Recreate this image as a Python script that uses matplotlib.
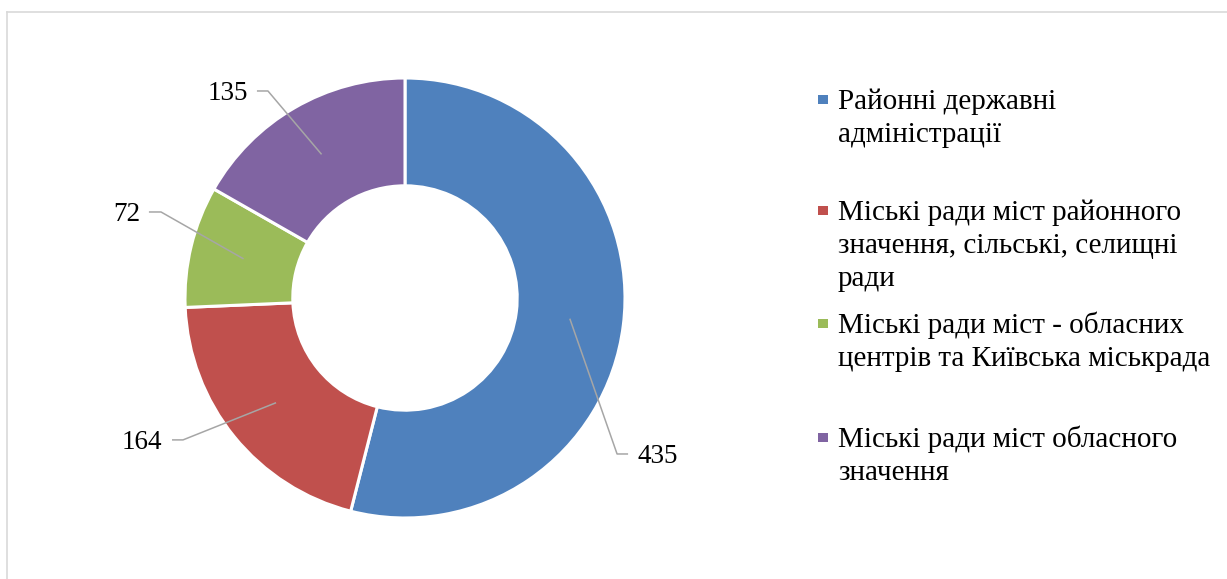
import numpy as np
import matplotlib
matplotlib.use('Agg')
import matplotlib.pyplot as plt
from matplotlib.lines import Line2D
from matplotlib.patches import Rectangle

plt.rcParams['font.family'] = ['Liberation Serif', 'DejaVu Serif']

categories = ['Районні державні\nадміністрації',
              'Міські ради міст районного\nзначення, сільські, селищні\nради',
              'Міські ради міст - обласних\nцентрів та Київська міськрада',
              'Міські ради міст обласного\nзначення']
values = [435, 164, 72, 135]
colors = ['#4F81BD', '#C0504D', '#9BBB59', '#8064A2']

W, H = 1227, 579
fig = plt.figure(figsize=(W / 100, H / 100), dpi=100)

# frame (only top and left visible in the original)
fig.add_artist(Line2D([7 / W, 1.0], [1 - 11.5 / H] * 2, color='#d9d9d9', lw=1.2))
fig.add_artist(Line2D([7 / W] * 2, [0.0, 1 - 11.5 / H], color='#d9d9d9', lw=1.2))

# donut: center (405, 298) px, radius 220 px
cx, cy, R = 405, 298, 220
ax = fig.add_axes([(cx - R) / W, (H - cy - R) / H, 2 * R / W, 2 * R / H])
wedges, _ = ax.pie(values, colors=colors, startangle=90, counterclock=False,
                   wedgeprops=dict(width=0.49, edgecolor='white', linewidth=2.2))
ax.set_xlim(-1, 1)
ax.set_ylim(-1, 1)
ax.axis('off')

# leader line elbows and label placement (axes units), label alignment
label_pos = [
    ((0.964, -0.709), (1.014, -0.709), (1.055, 'left')),
    ((-1.009, -0.645), (-1.059, -0.645), (-1.105, 'right')),
    ((-1.109, 0.391), (-1.164, 0.391), (-1.205, 'right')),
    ((-0.623, 0.941), (-0.673, 0.941), (-0.714, 'right')),
]
r_mid = 0.755
for w, v, (elb, end, (tx, ha)) in zip(wedges, values, label_pos):
    ang = np.deg2rad((w.theta1 + w.theta2) / 2)
    ax0, ay0 = r_mid * np.cos(ang), r_mid * np.sin(ang)
    ax.plot([ax0, elb[0], end[0]], [ay0, elb[1], end[1]], color='#A6A6A6',
            lw=1.1, clip_on=False, solid_capstyle='butt')
    ax.text(tx, end[1], str(v), ha=ha, va='center_baseline', fontsize=19.5,
            color='black', clip_on=False)

# legend, drawn entry by entry
first_baselines = [109, 220, 333, 447]
line_step = 33
for cat, col, b in zip(categories, colors, first_baselines):
    fig.add_artist(Rectangle((818 / W, 1 - (b - 5) / H), 10 / W, 9.5 / H,
                             facecolor=col, edgecolor='none'))
    for k, line in enumerate(cat.split('\n')):
        fig.text(838 / W, 1 - (b + k * line_step) / H, line, ha='left',
                 va='baseline', fontsize=21, color='black')

fig.savefig('out.png', dpi=100)
